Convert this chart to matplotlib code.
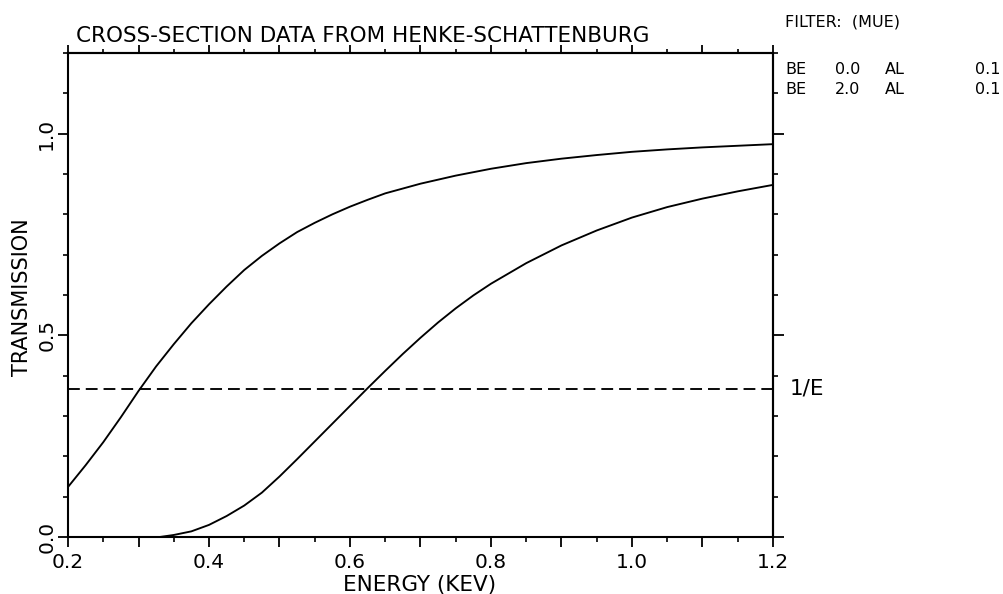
import numpy as np
import matplotlib
matplotlib.use("Agg")
import matplotlib.pyplot as plt
from matplotlib.ticker import MultipleLocator, FuncFormatter

plt.rcParams['font.family'] = ['DejaVu Sans']
plt.rcParams['lines.scale_dashes'] = False

# Photon energy grid (keV) and filter transmissions
energy_be0 = [0.200, 0.225, 0.250, 0.275, 0.300, 0.325, 0.350, 0.375, 0.400, 0.425,
              0.450, 0.475, 0.500, 0.525, 0.550, 0.575, 0.600, 0.625, 0.650, 0.700,
              0.750, 0.800, 0.850, 0.900, 0.950, 1.000, 1.050, 1.100, 1.150, 1.200]
trans_be0 = [0.124, 0.178, 0.235, 0.297, 0.362, 0.423, 0.478, 0.530, 0.577, 0.621,
             0.662, 0.697, 0.728, 0.756, 0.779, 0.800, 0.819, 0.836, 0.852, 0.876,
             0.896, 0.913, 0.927, 0.938, 0.947, 0.955, 0.961, 0.966, 0.970, 0.974]

energy_be2 = [0.330, 0.350, 0.375, 0.400, 0.425, 0.450, 0.475, 0.500, 0.525, 0.550,
              0.575, 0.600, 0.625, 0.650, 0.675, 0.700, 0.725, 0.750, 0.775, 0.800,
              0.850, 0.900, 0.950, 1.000, 1.050, 1.100, 1.150, 1.200]
trans_be2 = [0.000, 0.005, 0.014, 0.030, 0.052, 0.078, 0.110, 0.150, 0.193, 0.237,
             0.281, 0.325, 0.369, 0.412, 0.454, 0.494, 0.532, 0.567, 0.599, 0.628,
             0.679, 0.723, 0.760, 0.792, 0.818, 0.839, 0.857, 0.873]

one_over_e = float(np.exp(-1.0))

filter_rows = [("BE", "0.0", "AL", "0.1"),
               ("BE", "2.0", "AL", "0.1")]

W, H = 1004, 594
fig = plt.figure(figsize=(W / 100, H / 100), dpi=100)
fig.patch.set_facecolor("white")

x0, x1, y0, y1 = 68, 773, 53, 537
ax = fig.add_axes([x0 / W, 1 - y1 / H, (x1 - x0) / W, (y1 - y0) / H])

lw = 1.35
ax.plot(energy_be0, trans_be0, color="black", lw=lw, solid_joinstyle="round")
ax.plot(energy_be2, trans_be2, color="black", lw=lw, solid_joinstyle="round")
ax.axhline(one_over_e, color="black", lw=lw, dashes=[8.5, 4.3])

ax.set_xlim(0.2, 1.2)
ax.set_ylim(0.0, 1.2)

for s in ax.spines.values():
    s.set_linewidth(1.5)

FS = 14.5

# bottom axis
ax.xaxis.set_major_locator(MultipleLocator(0.1))
ax.xaxis.set_minor_locator(MultipleLocator(0.05))
ax.xaxis.set_major_formatter(FuncFormatter(
    lambda v, p: f"{v:.1f}" if abs(round(v * 10) % 2) == 0 else ""))
ax.tick_params(axis="x", which="major", direction="out", length=7.5, width=1.3,
               labelsize=FS, pad=4)
ax.tick_params(axis="x", which="minor", direction="out", length=3.5, width=1.2)

# left axis
ax.yaxis.set_major_locator(MultipleLocator(0.5))
ax.yaxis.set_minor_locator(MultipleLocator(0.1))
ax.yaxis.set_major_formatter(FuncFormatter(lambda v, p: f"{v:.1f}"))
ax.tick_params(axis="y", which="major", direction="out", length=7.5, width=1.3,
               labelsize=FS, pad=1)
ax.tick_params(axis="y", which="minor", direction="out", length=3.5, width=1.2)
for lab in ax.get_yticklabels():
    lab.set_rotation(90)
    lab.set_va("center")

# top axis
top = ax.secondary_xaxis("top")
top.xaxis.set_major_locator(MultipleLocator(0.1))
top.xaxis.set_minor_locator(MultipleLocator(0.05))
top.tick_params(which="major", direction="out", length=5.5, width=1.3, labeltop=False)
top.tick_params(which="minor", direction="out", length=3, width=1.2)
top.spines["top"].set_linewidth(1.5)

# right axis
right = ax.secondary_yaxis("right")
right.yaxis.set_major_locator(MultipleLocator(0.5))
right.yaxis.set_minor_locator(MultipleLocator(0.1))
right.tick_params(which="major", direction="out", length=8, width=1.3, labelright=False)
right.tick_params(which="minor", direction="out", length=3.5, width=1.2)
right.spines["right"].set_linewidth(1.5)

def fx(px):
    return px / W

def fy(py):
    return 1 - py / H

fig.text(fx(76), fy(35.5), "CROSS-SECTION DATA FROM HENKE-SCHATTENBURG",
         fontsize=15.5, ha="left", va="center")
fig.text(fx(420), fy(585), "ENERGY (KEV)", fontsize=15.5, ha="center", va="center")
fig.text(fx(22), fy(297), "TRANSMISSION", fontsize=15, ha="center", va="center",
         rotation=90)
fig.text(fx(790), fy(389), "1/E", fontsize=15.5, ha="left", va="center")

FS2 = 11.5
fig.text(fx(785), fy(22), "FILTER:  (MUE)", fontsize=FS2, ha="left", va="center")
col_x = [785, 835, 885, 975]
row_y = [70, 90]
for ry, row in zip(row_y, filter_rows):
    for cx, item in zip(col_x, row):
        fig.text(fx(cx), fy(ry), item, fontsize=FS2, ha="left", va="center")

fig.savefig("out.png", dpi=100, facecolor="white")
